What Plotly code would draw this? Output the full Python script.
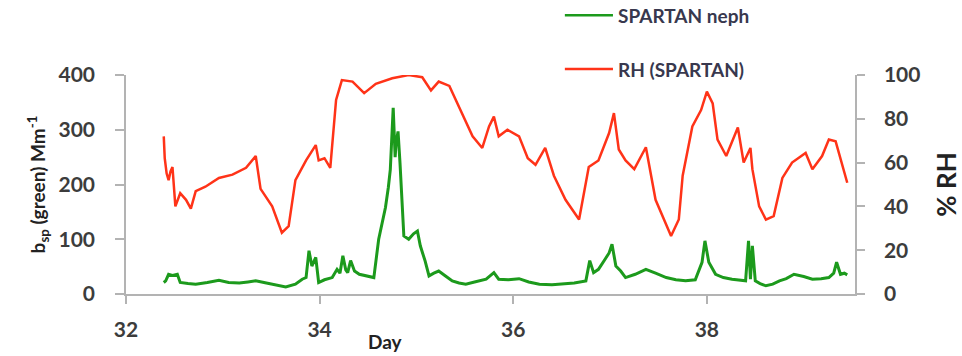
import plotly.graph_objects as go

# SPARTAN nephelometer scattering (Mm^-1), left axis
neph_day = [32.39, 32.41, 32.44, 32.48, 32.53, 32.56, 32.64, 32.72, 32.84, 32.96, 33.06, 33.17, 33.26, 33.34,
            33.45, 33.55, 33.65, 33.75, 33.82, 33.86, 33.89, 33.92, 33.94, 33.96, 33.99, 34.05, 34.13, 34.18,
            34.21, 34.24, 34.27, 34.29, 34.32, 34.36, 34.41, 34.48, 34.56, 34.61, 34.65, 34.68, 34.71, 34.73,
            34.76, 34.78, 34.79, 34.81, 34.83, 34.84, 34.87, 34.92, 34.97, 35.01, 35.04, 35.09, 35.13, 35.18,
            35.23, 35.30, 35.37, 35.44, 35.51, 35.60, 35.72, 35.80, 35.85, 35.95, 36.06, 36.16, 36.27, 36.40,
            36.51, 36.63, 36.75, 36.79, 36.83, 36.88, 36.95, 36.99, 37.02, 37.06, 37.11, 37.16, 37.26, 37.37,
            37.47, 37.58, 37.68, 37.78, 37.88, 37.95, 37.98, 38.02, 38.09, 38.17, 38.26, 38.33, 38.40, 38.43,
            38.45, 38.47, 38.50, 38.55, 38.61, 38.68, 38.75, 38.82, 38.90, 39.00, 39.09, 39.18, 39.26, 39.31,
            39.34, 39.38, 39.42, 39.45]
neph_val = [21, 24, 36, 34, 36, 21, 19, 18, 21, 25, 21, 20, 22, 24,
            20, 16, 13, 18, 27, 30, 79, 51, 60, 67, 21, 26, 30, 45,
            38, 70, 44, 39, 61, 42, 36, 33, 30, 100, 130, 158, 195, 227,
            340, 250, 276, 297, 240, 209, 106, 100, 110, 115, 88, 60, 33, 38,
            42, 33, 24, 20, 18, 22, 27, 39, 27, 26, 28, 22, 18, 17,
            18, 20, 24, 61, 39, 45, 64, 75, 91, 51, 42, 30, 36, 45,
            38, 30, 26, 24, 26, 58, 97, 58, 36, 30, 27, 25, 24, 97,
            27, 88, 24, 19, 15, 18, 24, 28, 36, 32, 27, 28, 30, 38,
            58, 36, 38, 35]

# RH (%) from SPARTAN, right axis
rh_day = [32.39, 32.40, 32.42, 32.44, 32.46, 32.48, 32.51, 32.56, 32.62, 32.67, 32.72, 32.82, 32.96, 33.10,
          33.24, 33.34, 33.39, 33.51, 33.61, 33.68, 33.75, 33.86, 33.96, 33.99, 34.05, 34.11, 34.17, 34.23,
          34.34, 34.46, 34.58, 34.75, 34.92, 35.06, 35.15, 35.23, 35.34, 35.47, 35.58, 35.68, 35.75, 35.80,
          35.85, 35.94, 36.06, 36.15, 36.23, 36.33, 36.42, 36.54, 36.68, 36.78, 36.88, 36.99, 37.04, 37.09,
          37.16, 37.25, 37.37, 37.47, 37.56, 37.63, 37.71, 37.75, 37.85, 37.94, 38.00, 38.06, 38.11, 38.20,
          38.32, 38.38, 38.45, 38.47, 38.54, 38.61, 38.69, 38.78, 38.88, 39.02, 39.09, 39.19, 39.26, 39.33,
          39.45]
rh_val = [72, 62, 55, 52, 56, 58, 40, 46, 43, 39, 47, 49, 53, 54.5,
          57.6, 63, 48, 40, 28, 31, 52, 61, 68, 61, 62, 57.6, 88.6, 97.7,
          97, 91.7, 96, 98.5, 100, 99, 93, 97, 95, 82.6, 72, 66.7, 76.5, 81,
          72, 75, 72, 62, 59, 66.7, 54, 43, 34, 58, 61, 73.5, 82.6, 66,
          61, 57, 67, 43, 34, 26.5, 34, 54, 76.5, 84, 92.4, 87, 70.5, 63,
          76, 60, 66.7, 57, 40, 34, 35.6, 53, 60, 64.4, 57, 63, 70.5, 69.7,
          50.8]

x_ticks = [32, 34, 36, 38]
left_ticks = [0, 100, 200, 300, 400]
right_ticks = [0, 20, 40, 60, 80, 100]
series_names = ["SPARTAN neph", "RH (SPARTAN)"]

GREEN = "#1c9a1c"
RED = "#ff3318"
AXIS = "#b3b3b3"
TXT = "#3c3c3c"
LEG = "#38384e"
FONT = "Lato"

fig = go.Figure()
fig.add_trace(go.Scatter(x=rh_day, y=rh_val, mode="lines", name=series_names[1],
                         line=dict(color=RED, width=2.5), yaxis="y2", showlegend=False))
fig.add_trace(go.Scatter(x=neph_day, y=neph_val, mode="lines", name=series_names[0],
                         line=dict(color=GREEN, width=3), yaxis="y", showlegend=False))

tickfont = dict(family=FONT, size=21, color=TXT, weight="bold")

# manual legend (long line samples, as in the original)
legend_items = [(series_names[0], GREEN, 1.273), (series_names[1], RED, 1.027)]
shapes, annotations = [], []
for name, col, ypos in legend_items:
    shapes.append(dict(type="line", xref="paper", yref="paper", x0=0.602, x1=0.668,
                       y0=ypos, y1=ypos, line=dict(color=col, width=2.5)))
    annotations.append(dict(text=name, xref="paper", yref="paper", x=0.672, y=ypos,
                            xanchor="left", yanchor="middle", showarrow=False,
                            font=dict(family=FONT, size=19, color=LEG, weight="bold")))
annotations.append(dict(text="Day", x=0.356, xref="paper", y=-0.215, yref="paper",
                        yanchor="middle", xanchor="center", showarrow=False,
                        font=dict(family=FONT, size=19, color="#222222", weight="bold")))

fig.update_layout(
    width=962, height=356,
    margin=dict(l=126, r=107, t=75, b=62, autoexpand=False),
    paper_bgcolor="white", plot_bgcolor="white",
    font=dict(family=FONT, color=TXT),
    xaxis=dict(range=[32, 39.53], tickvals=x_ticks, ticktext=[str(t) for t in x_ticks],
               showgrid=False, zeroline=False, showline=True, linecolor=AXIS, linewidth=1.5,
               ticks="outside", ticklen=8, tickcolor=AXIS, tickwidth=1.5, tickfont=tickfont,
               ticklabelstandoff=8),
    yaxis=dict(range=[0, 400], tickvals=left_ticks, showgrid=False, zeroline=False,
               showline=True, linecolor=AXIS, linewidth=1.5, ticks="outside", ticklen=9,
               tickcolor=AXIS, tickwidth=1.5, tickfont=tickfont, ticklabelstandoff=16,
               title=dict(text="b<sub>sp</sub> (green) Mm<sup>-1</sup>", standoff=8,
                          font=dict(family=FONT, size=19, color="#222222", weight="bold"))),
    yaxis2=dict(range=[0, 100], tickvals=right_ticks, overlaying="y", side="right",
                showgrid=False, zeroline=False, showline=True, linecolor=AXIS, linewidth=1.5,
                ticks="outside", ticklen=8, tickcolor=AXIS, tickwidth=1.5, tickfont=tickfont,
                ticklabelstandoff=15,
                title=dict(text="% RH", standoff=20,
                           font=dict(family=FONT, size=26, color="#222222", weight="bold"))),
    shapes=shapes,
    annotations=annotations,
)

fig.write_html("out.html", config={"displayModeBar": False},
               post_script="document.body.style.margin='0';")
